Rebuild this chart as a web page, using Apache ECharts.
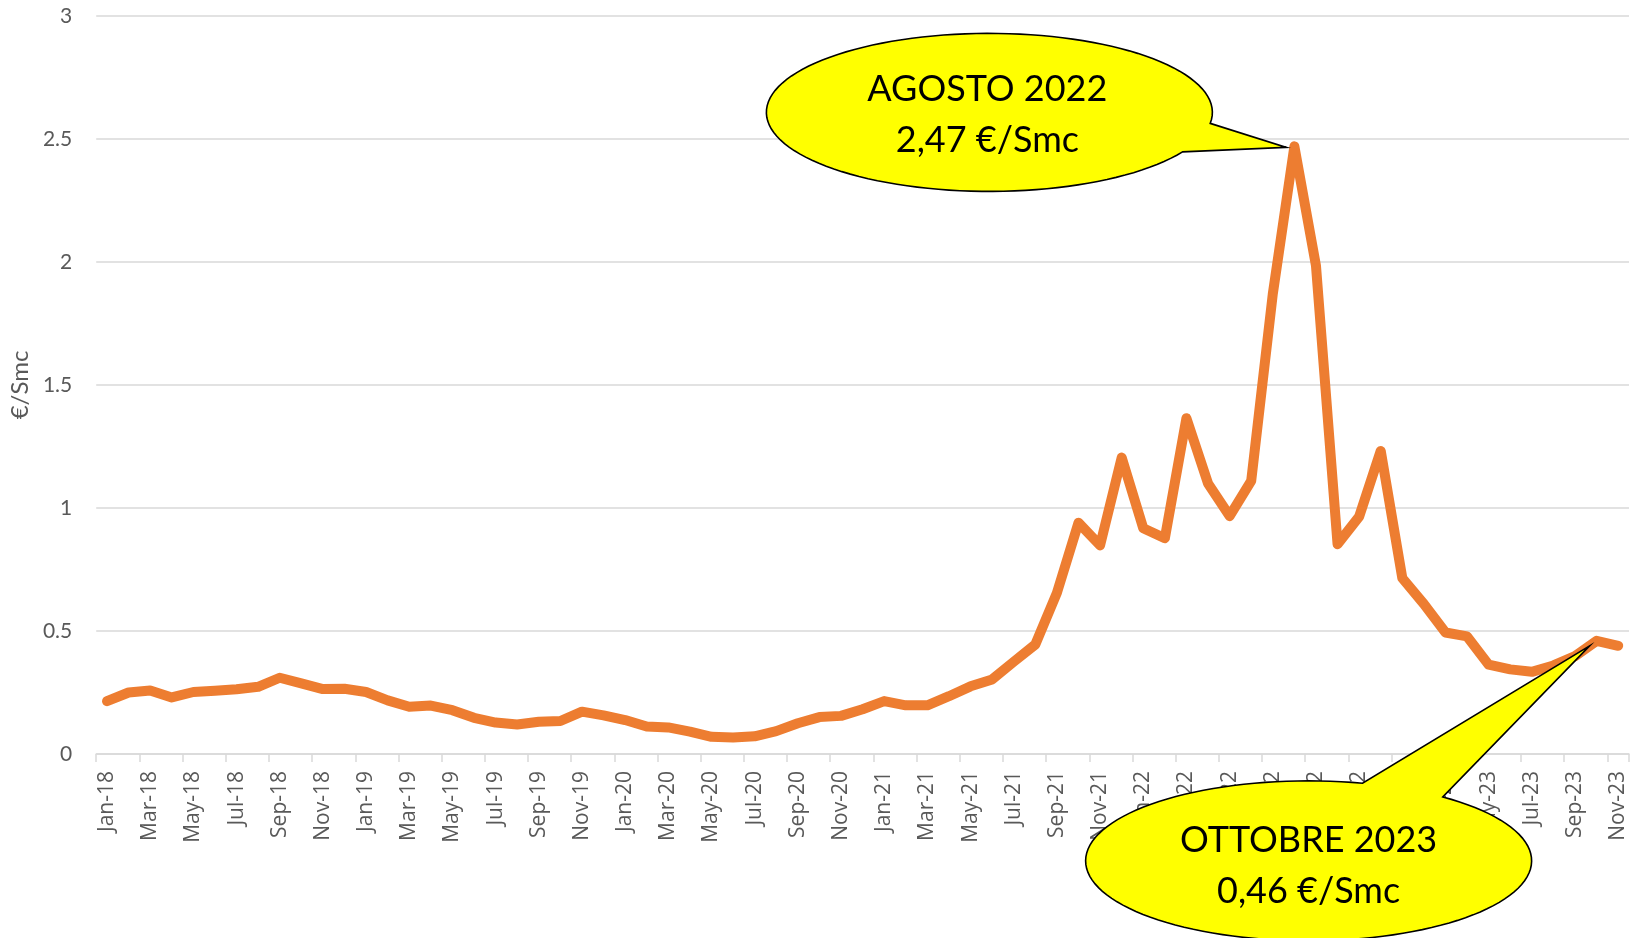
<!DOCTYPE html>
<html>
<head>
<meta charset="utf-8">
<script src="https://cdn.jsdelivr.net/npm/echarts@6/dist/echarts.min.js"></script>
<style>
html,body{margin:0;padding:0;background:#fff;}
#chart{width:1636px;height:938px;}
</style>
</head>
<body>
<div id="chart"></div>
<script>
// ---- DATA ----
const months = [
  'Jan-18','Feb-18','Mar-18','Apr-18','May-18','Jun-18','Jul-18','Aug-18','Sep-18','Oct-18','Nov-18','Dec-18',
  'Jan-19','Feb-19','Mar-19','Apr-19','May-19','Jun-19','Jul-19','Aug-19','Sep-19','Oct-19','Nov-19','Dec-19',
  'Jan-20','Feb-20','Mar-20','Apr-20','May-20','Jun-20','Jul-20','Aug-20','Sep-20','Oct-20','Nov-20','Dec-20',
  'Jan-21','Feb-21','Mar-21','Apr-21','May-21','Jun-21','Jul-21','Aug-21','Sep-21','Oct-21','Nov-21','Dec-21',
  'Jan-22','Feb-22','Mar-22','Apr-22','May-22','Jun-22','Jul-22','Aug-22','Sep-22','Oct-22','Nov-22','Dec-22',
  'Jan-23','Feb-23','Mar-23','Apr-23','May-23','Jun-23','Jul-23','Aug-23','Sep-23','Oct-23','Nov-23'
];
const prices = [
  0.215,0.250,0.258,0.230,0.252,0.257,0.263,0.273,0.310,0.287,0.264,0.265,
  0.252,0.218,0.192,0.197,0.178,0.147,0.128,0.120,0.131,0.134,0.172,0.157,
  0.138,0.112,0.108,0.091,0.070,0.067,0.072,0.093,0.125,0.150,0.155,0.182,
  0.215,0.198,0.198,0.235,0.275,0.303,0.375,0.445,0.655,0.940,0.848,1.205,
  0.918,0.877,1.365,1.100,0.967,1.110,1.870,2.470,1.985,0.853,0.965,1.232,
  0.715,0.610,0.494,0.478,0.363,0.344,0.334,0.360,0.398,0.460,0.440
];
const yTicks = [0, 0.5, 1, 1.5, 2, 2.5, 3];
const axisName = '€/Smc';
const callouts = [
  { month: 'Aug-22', lines: ['AGOSTO 2022', '2,47 €/Smc'] },
  { month: 'Oct-23', lines: ['OTTOBRE 2023', '0,46 €/Smc'] }
];

// ---- STYLE / LAYOUT (not data) ----
const calloutLayout = [
  { dx: -305, dy: -34, rx: 223, ry: 79, a1: 8, a2: 30, tipDx: -8, tipDy: 1, textDx: -2, textDy: 3 },
  { dx: -288, dy: 220, rx: 223, ry: 80, a1: -76, a2: -53, tipDx: -7, tipDy: 5, textDx: 0, textDy: 5 }
];

const chart = echarts.init(document.getElementById('chart'), null, { renderer: 'canvas' });

const option = {
  animation: false,
  backgroundColor: '#ffffff',
  grid: { left: 95, right: 7, top: 16, bottom: 184, containLabel: false },
  xAxis: {
    type: 'category',
    data: months,
    boundaryGap: true,
    axisLine: { show: true, lineStyle: { color: '#d9d9d9', width: 1.5 } },
    axisTick: { show: true, interval: 1, length: 8, lineStyle: { color: '#d9d9d9', width: 1.5 } },
    axisLabel: {
      interval: 1, rotate: 90, margin: 17,
      color: '#595959', fontFamily: 'Open Sans', fontSize: 21
    },
    splitLine: { show: false }
  },
  yAxis: {
    type: 'value',
    min: yTicks[0], max: yTicks[yTicks.length - 1], interval: 0.5,
    name: axisName, nameLocation: 'middle', nameGap: 62, nameRotate: 90,
    nameTextStyle: { color: '#595959', fontFamily: 'Lato', fontSize: 24 },
    axisLine: { show: false },
    axisTick: { show: false },
    axisLabel: { color: '#595959', fontFamily: 'Lato', fontSize: 21, margin: 24 },
    splitLine: { show: true, lineStyle: { color: '#d9d9d9', width: 1.5 } }
  },
  series: [{
    type: 'line',
    data: prices,
    symbol: 'none',
    smooth: false,
    lineStyle: { color: '#ED7D31', width: 10, cap: 'round', join: 'round' },
    z: 2
  }]
};
chart.setOption(option);

function calloutPoints(cx, cy, rx, ry, a1, a2, tx, ty) {
  const pts = [];
  const start = a2, end = a1 + 360;
  const steps = 120;
  for (let i = 0; i <= steps; i++) {
    const a = (start + (end - start) * i / steps) * Math.PI / 180;
    pts.push([cx + rx * Math.cos(a), cy + ry * Math.sin(a)]);
  }
  pts.push([tx, ty]);
  return pts;
}

const elements = [];
callouts.forEach((c, k) => {
  const L = calloutLayout[k];
  const idx = months.indexOf(c.month);
  const p = chart.convertToPixel({ seriesIndex: 0 }, [idx, prices[idx]]);
  const cx = p[0] + L.dx, cy = p[1] + L.dy;
  elements.push({
    type: 'polygon', z: 100,
    shape: { points: calloutPoints(cx, cy, L.rx, L.ry, L.a1, L.a2, p[0] + L.tipDx, p[1] + L.tipDy) },
    style: { fill: '#ffff00', stroke: '#000000', lineWidth: 1.6, lineJoin: 'miter' }
  });
  elements.push({
    type: 'text', z: 101,
    x: cx + L.textDx, y: cy + L.textDy,
    style: {
      text: c.lines.join('\n'),
      font: '36px Lato',
      fill: '#000000',
      align: 'center', verticalAlign: 'middle',
      lineHeight: 51
    }
  });
});
chart.setOption({ graphic: { elements: elements } });
</script>
</body>
</html>
